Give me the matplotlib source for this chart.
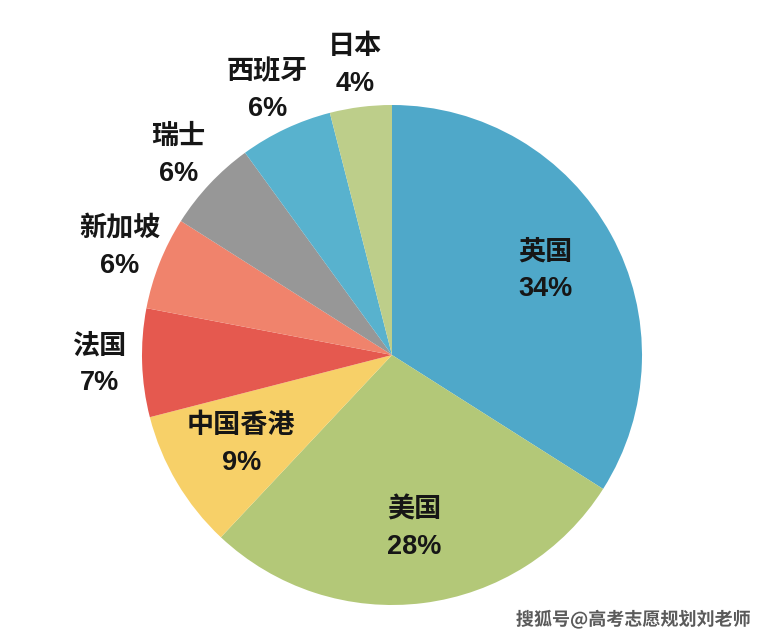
import numpy as np
import matplotlib
matplotlib.use("Agg")
import matplotlib.pyplot as plt
import matplotlib.patheffects as pe

plt.rcParams['font.family'] = ['Noto Sans CJK SC', 'DejaVu Sans']

categories = ['英国', '美国', '中国香港', '法国', '新加坡', '瑞士', '西班牙', '日本']
values = [34, 28, 9, 7, 6, 6, 6, 4]
colors = ['#4FA8C9', '#B3C878', '#F7D068', '#E5594F', '#F0836C', '#979797', '#58B2CE', '#BDCE8A']
inside = [True, True, True, False, False, False, False, False]

W, H = 763, 636
fig = plt.figure(figsize=(W / 100, H / 100), dpi=100)
cx, cy, R = 392, 355, 250
ax = fig.add_axes([(cx - R) / W, (H - cy - R) / H, 2 * R / W, 2 * R / H])

wedges, _ = ax.pie(values, colors=colors, startangle=90, counterclock=False,
                   radius=1, center=(0, 0), wedgeprops=dict(linewidth=0))
ax.set_xlim(-1, 1)
ax.set_ylim(-1, 1)
ax.set_aspect('equal')
ax.axis('off')

for w, cat, val, ins in zip(wedges, categories, values, inside):
    ang = np.deg2rad((w.theta1 + w.theta2) / 2)
    r = 0.70 if ins else 1.17
    x, y = r * np.cos(ang), r * np.sin(ang)
    ax.annotate(cat, (x, y), xytext=(0, 13.5), textcoords='offset points',
                ha='center', va='center', fontsize=19.5, fontweight='bold',
                color='#161616', annotation_clip=False)
    ax.annotate(f'{val}%', (x, y), xytext=(0, -13.5), textcoords='offset points',
                ha='center', va='center', fontsize=19.5, fontweight='bold',
                family=['Liberation Sans', 'DejaVu Sans'],
                color='#161616', annotation_clip=False)

fig.text(750 / W, (H - 620) / H, '搜狐号@高考志愿规划刘老师', ha='right', va='center',
         fontsize=13, fontweight='bold', color='#5a5a5a',
         path_effects=[pe.withStroke(linewidth=2, foreground='white')])

fig.savefig('out.png', dpi=100, facecolor='white')
